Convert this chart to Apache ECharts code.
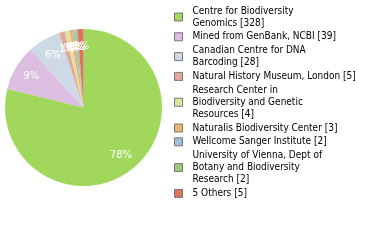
<!DOCTYPE html>
<html>
<head>
<meta charset="utf-8">
<script src="https://cdn.jsdelivr.net/npm/echarts@6/dist/echarts.min.js"></script>
<style>
  html, body { margin: 0; padding: 0; background: #fff; }
  #chart { width: 380px; height: 240px; }
</style>
</head>
<body>
<div id="chart"></div>
<script>
const names = [
  'Centre for Biodiversity\nGenomics',
  'Mined from GenBank, NCBI',
  'Canadian Centre for DNA\nBarcoding',
  'Natural History Museum, London',
  'Research Center in\nBiodiversity and Genetic\nResources',
  'Naturalis Biodiversity Center',
  'Wellcome Sanger Institute',
  'University of Vienna, Dept of\nBotany and Biodiversity\nResearch',
  '5 Others'
]
const counts = [328, 39, 28, 5, 4, 3, 2, 2, 5]
const colors = ['#a1d85c', '#dcbee0', '#cddae6', '#e2a99b', '#dfe39c', '#f0b16f', '#9fbedd', '#9fc97a', '#e0715a']

const total = counts.reduce((a, b) => a + b, 0)
const pieData = names.map((n, i) => ({
  name: n + ' [' + counts[i] + ']',
  value: counts[i],
  itemStyle: { color: colors[i] }
}))

const chart = echarts.init(document.getElementById('chart'))
chart.setOption({
  animation: false,
  legend: {
    orient: 'vertical',
    left: 174,
    top: 5,
    padding: 0,
    align: 'left',
    icon: 'rect',
    itemWidth: 8,
    itemHeight: 8,
    itemGap: 1.8,
    itemStyle: { borderColor: '#777', borderWidth: 1 },
    formatter: name => name.split('\n').map(s => '{t|' + s + '}').join('\n'),
    textStyle: {
      align: 'left',
      fontSize: 10,
      lineHeight: 12,
      rich: {
        t: {
          fontFamily: 'DejaVu Sans Condensed, DejaVu Sans',
          fontSize: 10,
          lineHeight: 12,
          height: 12,
          color: '#000',
          padding: [0, 0, 0, 5]
        }
      }
    },
    selectedMode: false,
    data: pieData.map(d => d.name)
  },
  series: [
    {
      type: 'pie',
      center: [83.5, 107.5],
      radius: [0, 78.5],
      clockwise: true,
      startAngle: 90,
      silent: true,
      label: { show: false },
      labelLine: { show: false },
      data: pieData
    },
    {
      // label ring only
      type: 'pie',
      center: [83.5, 107.5],
      radius: [37, 78.5],
      startAngle: 90,
      silent: true,
      avoidLabelOverlap: false,
      minShowLabelAngle: 0,
      labelLayout: { hideOverlap: false },
      itemStyle: { color: 'rgba(0,0,0,0)' },
      label: {
        show: true,
        position: 'inside',
        color: '#fff',
        fontFamily: 'DejaVu Sans',
        fontSize: 10,
        formatter: p => Math.floor(p.value / total * 100) + '%'
      },
      labelLine: { show: false },
      data: pieData.map(d => ({ name: d.name, value: d.value }))
    }
  ]
})
</script>
</body>
</html>
